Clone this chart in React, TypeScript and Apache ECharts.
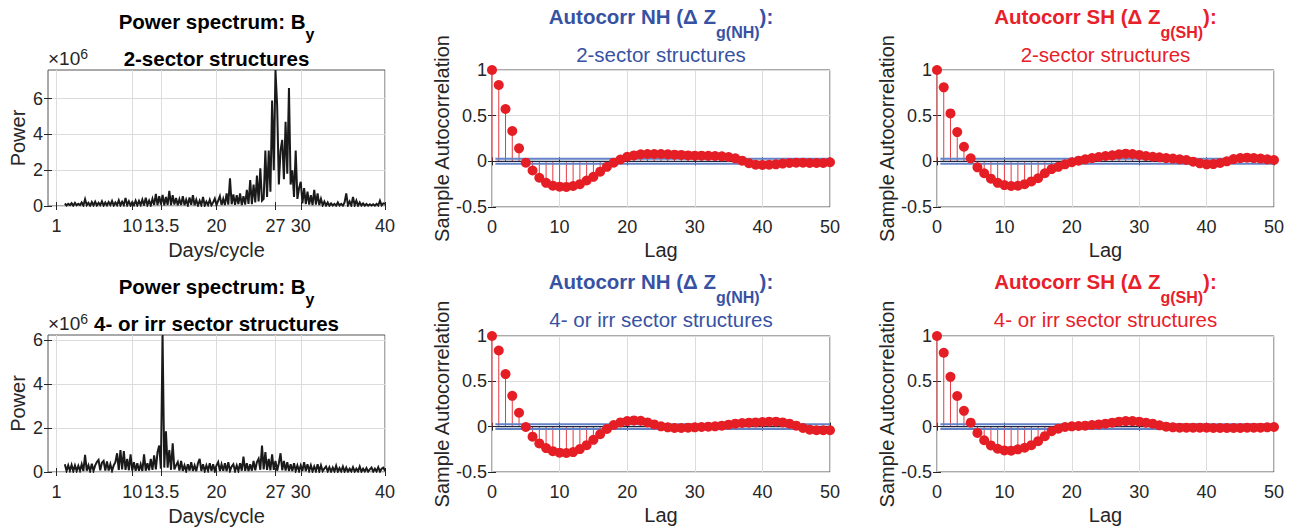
import React, { useEffect, useRef } from "react";
import * as echarts from "echarts";

// ---------------- DATA ----------------
// Power spectra (units of 1e6), sampled every SPEC_X_STEP days/cycle starting at SPEC_X_START
const SPEC_X_START = 2.0;
const SPEC_X_STEP = 0.2;
const SPEC_X_TICKS = [1, 10, 13.5, 20, 27, 30, 40];
const SPEC_Y_TICKS = [0, 2, 4, 6];

const POWER_2SECTOR = [
  0.14, 0.03, 0.12, 0.05, 0.16, 0.02, 0.18, 0.04, 0.12, 0.05,
  0.20, 0.03, 0.38, 0.05, 0.18, 0.02, 0.22, 0.04, 0.24, 0.03,
  0.18, 0.05, 0.26, 0.03, 0.20, 0.04, 0.22, 0.06, 0.28, 0.03,
  0.20, 0.05, 0.32, 0.04, 0.24, 0.06, 0.45, 0.05, 0.26, 0.03,
  0.22, 0.05, 0.30, 0.04, 0.28, 0.06, 0.35, 0.03, 0.46, 0.05,
  0.30, 0.04, 0.40, 0.06, 0.68, 0.05, 0.55, 0.08, 0.62, 0.04,
  0.50, 0.06, 0.85, 0.05, 0.60, 0.08, 0.45, 0.04, 0.38, 0.06,
  0.55, 0.05, 0.35, 0.04, 0.48, 0.07, 0.60, 0.04, 0.35, 0.03,
  0.30, 0.05, 0.50, 0.03, 0.25, 0.06, 0.35, 0.04, 0.20, 0.42,
  0.05, 0.30, 0.55, 0.06, 0.40, 0.05, 0.70, 0.08, 1.55, 0.10,
  0.65, 0.06, 0.60, 0.10, 0.70, 0.05, 0.55, 0.08, 0.90, 0.12,
  1.45, 0.10, 1.20, 0.20, 1.70, 0.25, 2.10, 0.30, 0.40, 3.10,
  0.50, 3.10, 0.80, 5.90, 2.00, 7.60, 5.60, 1.20, 3.10, 3.70,
  1.50, 4.70, 1.80, 6.60, 1.20, 2.00, 0.50, 3.10, 0.40, 1.00,
  1.35, 0.15, 1.00, 0.10, 0.80, 0.08, 0.60, 0.05, 0.90, 0.08,
  0.70, 0.05, 0.40, 0.04, 0.25, 0.03, 0.20, 0.02, 0.15, 0.03,
  0.12, 0.02, 0.20, 0.03, 0.12, 0.02, 0.20, 0.70, 0.04, 0.25,
  0.03, 0.50, 0.04, 0.30, 0.02, 0.20, 0.03, 0.15, 0.02, 0.12,
  0.02, 0.10, 0.03, 0.10, 0.02, 0.12, 0.03, 0.30, 0.04, 0.15,
  0.12,
];

const POWER_4SECTOR = [
  0.35, 0.05, 0.30, 0.06, 0.32, 0.04, 0.30, 0.05, 0.28, 0.06,
  0.35, 0.05, 0.78, 0.06, 0.30, 0.04, 0.38, 0.05, 0.30, 0.45,
  0.55, 0.08, 0.42, 0.50, 0.06, 0.48, 0.07, 0.35, 0.05, 0.30,
  0.45, 0.85, 0.10, 1.00, 0.12, 0.95, 0.10, 0.60, 0.08, 0.80,
  0.06, 0.45, 0.05, 0.40, 0.06, 0.35, 0.05, 0.80, 0.06, 0.40,
  0.08, 0.60, 0.10, 0.75, 0.12, 0.90, 1.20, 0.15, 6.22, 0.20,
  1.85, 0.20, 1.00, 0.10, 1.30, 0.12, 0.30, 0.45, 0.06, 0.50,
  0.05, 0.30, 0.04, 0.35, 0.06, 0.45, 0.05, 0.30, 0.04, 0.40,
  0.60, 0.05, 0.35, 0.04, 0.30, 0.06, 0.40, 0.05, 0.35, 0.04,
  0.30, 0.45, 0.05, 0.35, 0.06, 0.40, 0.04, 0.45, 0.05, 0.25,
  0.35, 0.04, 0.30, 0.05, 0.40, 0.06, 0.70, 0.05, 0.40, 0.04,
  0.35, 0.06, 0.50, 0.08, 0.45, 0.60, 0.10, 1.20, 0.12, 0.90,
  0.10, 0.60, 0.08, 0.80, 0.10, 0.50, 0.06, 0.40, 0.85, 0.08,
  0.50, 0.06, 0.45, 0.05, 0.35, 0.04, 0.40, 0.05, 0.30, 0.04,
  0.30, 0.05, 0.45, 0.04, 0.35, 0.05, 0.30, 0.03, 0.25, 0.04,
  0.35, 0.03, 0.30, 0.04, 0.15, 0.25, 0.03, 0.22, 0.02, 0.20,
  0.03, 0.28, 0.02, 0.18, 0.03, 0.25, 0.02, 0.20, 0.02, 0.15,
  0.03, 0.22, 0.02, 0.15, 0.03, 0.25, 0.02, 0.15, 0.03, 0.18,
  0.02, 0.12, 0.20, 0.02, 0.15, 0.03, 0.22, 0.02, 0.15, 0.20,
  0.05,
];

const SPEC_YMAX_2SECTOR = 7.6;
const SPEC_YMAX_4SECTOR = 6.22;

// Autocorrelation
const LAGS = [
  0, 1, 2, 3, 4, 5, 6, 7, 8, 9, 10, 11, 12, 13, 14, 15, 16, 17, 18, 19, 20,
  21, 22, 23, 24, 25, 26, 27, 28, 29, 30, 31, 32, 33, 34, 35, 36, 37, 38, 39,
  40, 41, 42, 43, 44, 45, 46, 47, 48, 49, 50,
];
const ACF_NH_2SECTOR = [
  1, 0.836, 0.573, 0.332, 0.142, -0.015, -0.1, -0.18, -0.235, -0.266,
  -0.277, -0.28, -0.27, -0.25, -0.21, -0.17, -0.113, -0.06, -0.015, 0.02,
  0.05, 0.065, 0.077, 0.08, 0.08, 0.08, 0.077, 0.073, 0.07, 0.065,
  0.062, 0.062, 0.06, 0.058, 0.055, 0.047, 0.033, 0.007, -0.02, -0.037,
  -0.04, -0.037, -0.033, -0.025, -0.018, -0.015, -0.015, -0.018, -0.018, -0.018,
  -0.01,
];
const ACF_SH_2SECTOR = [
  1, 0.81, 0.525, 0.32, 0.16, 0.033, -0.066, -0.13, -0.19, -0.235,
  -0.26, -0.27, -0.267, -0.25, -0.22, -0.185, -0.13, -0.085, -0.06, -0.033,
  -0.01, 0.007, 0.022, 0.036, 0.047, 0.058, 0.066, 0.077, 0.084, 0.08,
  0.07, 0.058, 0.05, 0.044, 0.036, 0.03, 0.022, 0.015, -0.004, -0.022,
  -0.033, -0.03, -0.018, 0, 0.025, 0.036, 0.04, 0.036, 0.03, 0.022,
  0.015,
];
const ACF_NH_4SECTOR = [
  1, 0.84, 0.58, 0.34, 0.153, -0.004, -0.11, -0.185, -0.236, -0.27,
  -0.287, -0.29, -0.28, -0.247, -0.204, -0.145, -0.084, -0.025, 0.018, 0.047,
  0.062, 0.069, 0.065, 0.047, 0.025, 0.004, -0.007, -0.015, -0.015, -0.011,
  -0.007, -0.004, 0, 0.004, 0.011, 0.022, 0.033, 0.04, 0.044, 0.047,
  0.051, 0.055, 0.055, 0.047, 0.033, 0.011, -0.015, -0.033, -0.04, -0.04,
  -0.04,
];
const ACF_SH_4SECTOR = [
  1, 0.815, 0.55, 0.338, 0.175, 0.044, -0.069, -0.15, -0.207, -0.244,
  -0.262, -0.265, -0.25, -0.233, -0.204, -0.16, -0.105, -0.051, -0.022, -0.004,
  0.004, 0.007, 0.011, 0.018, 0.025, 0.033, 0.044, 0.055, 0.062, 0.062,
  0.055, 0.044, 0.033, 0.015, 0, -0.007, -0.011, -0.011, -0.011, -0.011,
  -0.011, -0.015, -0.015, -0.015, -0.015, -0.015, -0.011, -0.011, -0.011, -0.007,
  -0.004,
];
const CONF_BOUND = 0.027;
const CONF_LAG_RANGE = [0.5, 50];

// ---------------- STYLE ----------------
const FONT = '"Liberation Sans", Arial, Helvetica, sans-serif';
const AXIS_COLOR = "#262626";
const GRID_COLOR = "#dcdcdc";
const BOX_COLOR = "#555555";
const NH_BLUE = "#3752a3";
const SH_RED = "#e8202a";
const STEM_RED = "#e63a40";
const DOT_RED = "#e51e25";
const BOUND_BLUE = "#6482c6";
const ZERO_DARK = "#1e2740";
const TICK_FS = 18;
const LABEL_FS = 20;
const TITLE_FS = 20.5;
const SUB_FS = 16;

type Panel = {
  kind: "spec" | "acf";
  left: number;
  top: number;
  width: number;
  height: number;
  values: number[];
  ymax?: number;
};

const PANELS: Panel[] = [
  { kind: "spec", left: 48, top: 70, width: 337, height: 136, values: POWER_2SECTOR, ymax: SPEC_YMAX_2SECTOR },
  { kind: "acf", left: 492, top: 70, width: 338, height: 137, values: ACF_NH_2SECTOR },
  { kind: "acf", left: 937, top: 70, width: 337, height: 137, values: ACF_SH_2SECTOR },
  { kind: "spec", left: 48, top: 335, width: 337, height: 137, values: POWER_4SECTOR, ymax: SPEC_YMAX_4SECTOR },
  { kind: "acf", left: 492, top: 336, width: 338, height: 136, values: ACF_NH_4SECTOR },
  { kind: "acf", left: 937, top: 336, width: 337, height: 136, values: ACF_SH_4SECTOR },
];

type Part = { text: string; size: number; bold?: boolean; dy?: number };

let measureCtx: CanvasRenderingContext2D | null = null;
function textWidth(t: string, size: number, bold?: boolean) {
  if (!measureCtx) measureCtx = document.createElement("canvas").getContext("2d");
  measureCtx!.font = `${bold ? "bold " : ""}${size}px "Liberation Sans"`;
  return measureCtx!.measureText(t).width;
}

function lineElements(parts: Part[], anchorX: number, baseline: number, color: string, align: "center" | "left") {
  const widths = parts.map((p) => textWidth(p.text, p.size, p.bold));
  const total = widths.reduce((a, b) => a + b, 0);
  let x = align === "center" ? anchorX - total / 2 : anchorX;
  return parts.map((p, k) => {
    const el = {
      type: "text",
      x,
      y: baseline + (p.dy || 0) - 0.3465 * p.size,
      silent: true,
      style: {
        text: p.text,
        fontSize: p.size,
        fontFamily: FONT,
        fontWeight: p.bold ? "bold" : "normal",
        fill: color,
        align: "left",
        textAlign: "left",
        verticalAlign: "middle",
        textVerticalAlign: "middle",
      },
    };
    x += widths[k];
    return el;
  });
}

function buildOption() {
  const grid: any[] = [];
  const xAxis: any[] = [];
  const yAxis: any[] = [];
  const series: any[] = [];

  PANELS.forEach((p, i) => {
    grid.push({
      left: p.left,
      top: p.top,
      width: p.width,
      height: p.height,
      show: true,
      borderColor: BOX_COLOR,
      borderWidth: 1,
      backgroundColor: "#ffffff",
      containLabel: false,
      outerBoundsMode: "none",
    });
    const isSpec = p.kind === "spec";
    const tickStyle = { show: true, inside: true, length: 4, lineStyle: { color: AXIS_COLOR, width: 1 } };
    const xRange = isSpec ? { min: 0, max: 40 } : { min: 0, max: 50, interval: 10 };
    const yRange = isSpec ? { min: 0, max: p.ymax, interval: 2 } : { min: -0.5, max: 1, interval: 0.5 };

    xAxis.push({
      gridIndex: i,
      type: "value",
      position: "bottom",
      ...xRange,
      axisLine: { show: false },
      axisTick: isSpec ? { ...tickStyle, customValues: SPEC_X_TICKS } : tickStyle,
      axisLabel: {
        show: true,
        margin: 11,
        color: AXIS_COLOR,
        fontSize: TICK_FS,
        fontFamily: FONT,
        hideOverlap: false,
        ...(isSpec ? { customValues: SPEC_X_TICKS } : {}),
      },
      splitLine: { show: true, lineStyle: { color: GRID_COLOR, width: 1 } },
      name: isSpec ? "Days/cycle" : "Lag",
      nameLocation: "middle",
      nameGap: isSpec ? 34 : 33,
      nameTextStyle: { fontSize: LABEL_FS, color: AXIS_COLOR, fontFamily: FONT },
    });
    xAxis.push({
      gridIndex: i,
      type: "value",
      position: "top",
      ...xRange,
      axisLine: { show: false },
      axisTick: isSpec ? { ...tickStyle, customValues: SPEC_X_TICKS } : tickStyle,
      axisLabel: { show: false, ...(isSpec ? { customValues: SPEC_X_TICKS } : {}) },
      splitLine: { show: false },
    });
    yAxis.push({
      gridIndex: i,
      type: "value",
      position: "left",
      ...yRange,
      axisLine: { show: false },
      axisTick: isSpec ? { ...tickStyle, customValues: SPEC_Y_TICKS } : tickStyle,
      axisLabel: {
        show: true,
        margin: 5,
        color: AXIS_COLOR,
        fontSize: TICK_FS,
        fontFamily: FONT,
        ...(isSpec ? { customValues: SPEC_Y_TICKS } : {}),
      },
      splitLine: { show: true, lineStyle: { color: GRID_COLOR, width: 1 } },
      name: isSpec ? "Power" : "Sample Autocorrelation",
      nameLocation: "middle",
      nameGap: isSpec ? 20 : 40,
      nameTextStyle: { fontSize: LABEL_FS, color: AXIS_COLOR, fontFamily: FONT },
    });
    yAxis.push({
      gridIndex: i,
      type: "value",
      position: "right",
      ...yRange,
      axisLine: { show: false },
      axisTick: isSpec ? { ...tickStyle, customValues: SPEC_Y_TICKS } : tickStyle,
      axisLabel: { show: false, ...(isSpec ? { customValues: SPEC_Y_TICKS } : {}) },
      splitLine: { show: false },
    });

    const xi = 2 * i;
    const yi = 2 * i;
    if (isSpec) {
      series.push({
        type: "line",
        xAxisIndex: xi,
        yAxisIndex: yi,
        data: p.values.map((v, k) => [SPEC_X_START + k * SPEC_X_STEP, v]),
        showSymbol: false,
        symbol: "none",
        lineStyle: { color: "#1a1a1a", width: 2, join: "miter" },
        clip: true,
        z: 3,
      });
    } else {
      const pts = LAGS.map((l, k) => [l, p.values[k]]);
      series.push({
        type: "custom",
        xAxisIndex: xi,
        yAxisIndex: yi,
        data: pts,
        z: 2,
        renderItem: (_params: any, api: any) => {
          const a = api.coord([api.value(0), 0]);
          const b = api.coord([api.value(0), api.value(1)]);
          return {
            type: "line",
            shape: { x1: a[0], y1: a[1], x2: b[0], y2: b[1] },
            style: { stroke: STEM_RED, lineWidth: 1 },
          };
        },
      });
      [CONF_BOUND, -CONF_BOUND].forEach((b) => {
        series.push({
          type: "line",
          xAxisIndex: xi,
          yAxisIndex: yi,
          data: CONF_LAG_RANGE.map((l) => [l, b]),
          showSymbol: false,
          symbol: "none",
          lineStyle: { color: BOUND_BLUE, width: 2 },
          z: 3,
        });
      });
      series.push({
        type: "line",
        xAxisIndex: xi,
        yAxisIndex: yi,
        data: CONF_LAG_RANGE.map((l) => [l, 0]),
        showSymbol: false,
        symbol: "none",
        lineStyle: { color: ZERO_DARK, width: 1.2 },
        z: 3,
      });
      series.push({
        type: "scatter",
        xAxisIndex: xi,
        yAxisIndex: yi,
        data: pts,
        symbol: "circle",
        symbolSize: 10,
        itemStyle: { color: DOT_RED, opacity: 1 },
        z: 5,
      });
    }
  });

  const graphics: any[] = [];
  const rowOffsets = [0, 265];
  const subtitles = ["2-sector structures", "4- or irr sector structures"];
  rowOffsets.forEach((off, r) => {
    // Column 1: power spectrum
    graphics.push(
      ...lineElements(
        [
          { text: "Power spectrum: B", size: TITLE_FS, bold: true },
          { text: "y", size: SUB_FS, bold: true, dy: 12 },
        ],
        216.5,
        28.5 + off,
        "#000000",
        "center"
      )
    );
    graphics.push(...lineElements([{ text: subtitles[r], size: TITLE_FS, bold: true }], 216.5, 65.5 + off, "#000000", "center"));
    graphics.push(
      ...lineElements(
        [
          { text: "\u00d710", size: 19 },
          { text: "6", size: 14, dy: -6 },
        ],
        48,
        65 + off,
        AXIS_COLOR,
        "left"
      )
    );
    // Column 2: NH
    graphics.push(
      ...lineElements(
        [
          { text: "Autocorr NH (\u0394 Z", size: TITLE_FS, bold: true },
          { text: "g(NH)", size: SUB_FS, bold: true, dy: 15 },
          { text: "):", size: TITLE_FS, bold: true },
        ],
        661,
        23.5 + off,
        NH_BLUE,
        "center"
      )
    );
    graphics.push(...lineElements([{ text: subtitles[r], size: TITLE_FS }], 661, 61.5 + off, NH_BLUE, "center"));
    // Column 3: SH
    graphics.push(
      ...lineElements(
        [
          { text: "Autocorr SH (\u0394 Z", size: TITLE_FS, bold: true },
          { text: "g(SH)", size: SUB_FS, bold: true, dy: 15 },
          { text: "):", size: TITLE_FS, bold: true },
        ],
        1105.5,
        23.5 + off,
        SH_RED,
        "center"
      )
    );
    graphics.push(...lineElements([{ text: subtitles[r], size: TITLE_FS }], 1105.5, 61.5 + off, SH_RED, "center"));
  });

  return {
    animation: false,
    backgroundColor: "#ffffff",
    textStyle: { fontFamily: FONT },
    grid,
    xAxis,
    yAxis,
    series,
    graphic: { elements: graphics },
  };
}

export default function App() {
  const ref = useRef<HTMLDivElement>(null);
  useEffect(() => {
    if (!ref.current) return;
    const chart = echarts.init(ref.current, null, { renderer: "svg" });
    chart.setOption(buildOption() as any);
    return () => {
      chart.dispose();
    };
  }, []);
  return (
    <div
      ref={ref}
      style={{ position: "fixed", left: 0, top: 0, width: 1296, height: 530, background: "#ffffff" }}
    />
  );
}
